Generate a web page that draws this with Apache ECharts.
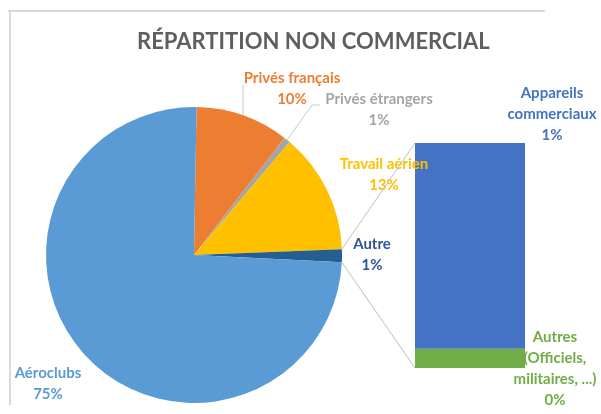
<!DOCTYPE html>
<html><head><meta charset="utf-8">
<script src="https://cdn.jsdelivr.net/npm/echarts@6/dist/echarts.min.js"></script>
<style>html,body{margin:0;padding:0;background:#fff}#c{width:601px;height:414px}</style>
</head><body><div id="c"></div>
<script>
// ---- data ----
const titleText = 'RÉPARTITION NON COMMERCIAL';
const pieNames = ['Privés français', 'Privés étrangers', 'Travail aérien', 'Autre', 'Aéroclubs'];
const pieValues = [10.2, 0.7, 13.2, 1.4, 74.5];
const barNames = ['Autres\n(Officiels,\nmilitaires, ...)', 'Appareils\ncommerciaux'];
const barValues = [0.12, 1.28];

// ---- styles / layout ----
const pieColors = ['#ED7D31', '#A5A5A5', '#FFC000', '#255E91', '#5B9BD5'];
const pieTextColors = ['#ED7D31', '#A5A5A5', '#FFC000', '#2F5597', '#5B9BD5'];
const barColors = ['#70AD47', '#4472C4'];
const barTextColors = ['#70AD47', '#4472C4'];
const PIE_C = [194, 255], PIE_R = 148, START = 89;
const GRID = {left: 415, top: 143, width: 110, height: 225};
const pieLabelPos = [[292, 89], [379, 110], [384, 175], [372, 255], [48, 384]];
const barLabelPos = [[555, 369], [552, 114]];
const FONT = 'Lato';
const LABEL_SIZE = 15;

const chart = echarts.init(document.getElementById('c'), null, {renderer: 'canvas'});
const barTotal = barValues.reduce((a, b) => a + b, 0);

const option = {
  backgroundColor: '#fff',
  animation: false,
  title: {
    text: titleText, left: 137, top: 31, padding: 0,
    textStyle: {fontFamily: FONT, fontSize: 22, fontWeight: 'bold', color: '#5F5F5F'}
  },
  grid: GRID,
  xAxis: {type: 'category', data: ['x'], show: false},
  yAxis: {type: 'value', min: 0, max: barTotal, show: false},
  series: [
    {
      type: 'pie', center: PIE_C, radius: PIE_R, startAngle: START, clockwise: true,
      data: pieNames.map((n, i) => ({name: n, value: pieValues[i],
        itemStyle: {color: pieColors[i]},
        label: {color: pieTextColors[i]}})),
      label: {
        show: true, position: 'outside', fontFamily: FONT, fontWeight: 'bold', fontSize: LABEL_SIZE,
        lineHeight: 21, align: 'center', overflow: 'none', width: 200,
        formatter: p => p.name + '\n' + Math.round(p.percent) + '%'
      },
      labelLine: {show: false},
      labelLayout: p => ({x: pieLabelPos[p.dataIndex][0], y: pieLabelPos[p.dataIndex][1], align: 'center', verticalAlign: 'middle'}),
      emphasis: {disabled: true}
    },
    ...barNames.map((n, i) => ({
      type: 'bar', name: n, stack: 'b', barWidth: '100%',
      data: [barValues[i]],
      itemStyle: {color: barColors[i]},
      label: {
        show: true, fontFamily: FONT, fontWeight: 'bold', fontSize: LABEL_SIZE, lineHeight: 21,
        color: barTextColors[i], align: 'center',
        formatter: () => n + '\n' + Math.round(barValues[i]) + '%'
      },
      labelLayout: () => ({x: barLabelPos[i][0], y: barLabelPos[i][1], align: 'center', verticalAlign: 'middle'}),
      emphasis: {disabled: true}
    }))
  ]
};
chart.setOption(option);

// derived decorations: leader lines, pie-to-bar connectors, frame
const total = pieValues.reduce((a, b) => a + b, 0);
function edge(frac, extra) {
  const a = (90 - START + 360 * frac) * Math.PI / 180;
  const r = PIE_R + (extra || 0);
  return [PIE_C[0] + r * Math.sin(a), PIE_C[1] - r * Math.cos(a)];
}
const cum = [];
pieValues.reduce((s, v, i) => { cum[i] = s / total; return s + v; }, 0);
const mid = i => cum[i] + pieValues[i] / total / 2;
const autreIdx = pieNames.indexOf('Autre');
const aTop = edge(cum[autreIdx]);
const aBot = edge(cum[autreIdx] + pieValues[autreIdx] / total);
const barTopC = chart.convertToPixel({gridIndex: 0}, [0, barTotal]);
const barBotC = chart.convertToPixel({gridIndex: 0}, [0, 0]);
const barLeft = barTopC[0] - GRID.width / 2;

const pf = edge(mid(0)), pe = edge(mid(1));
const lineStyle = {stroke: '#BFBFBF', lineWidth: 1};
chart.setOption({
  graphic: [
    {type: 'line', shape: {x1: 8, y1: 11, x2: 545, y2: 11}, style: {stroke: '#DADADA', lineWidth: 2}},
    {type: 'line', shape: {x1: 10, y1: 11, x2: 10, y2: 405}, style: {stroke: '#DADADA', lineWidth: 2}},
    {type: 'polyline', shape: {points: [pf, [243, 85]]}, style: {stroke: '#C9C9C9', lineWidth: 1, fill: null}},
    {type: 'polyline', shape: {points: [pe, [312, 105], [320, 105]]}, style: {stroke: '#C9C9C9', lineWidth: 1, fill: null}},
    {type: 'line', shape: {x1: aTop[0], y1: aTop[1], x2: barLeft, y2: barTopC[1]}, style: lineStyle, z: 10},
    {type: 'line', shape: {x1: aBot[0], y1: aBot[1], x2: barLeft, y2: barBotC[1]}, style: lineStyle, z: 10}
  ]
});
</script></body></html>
